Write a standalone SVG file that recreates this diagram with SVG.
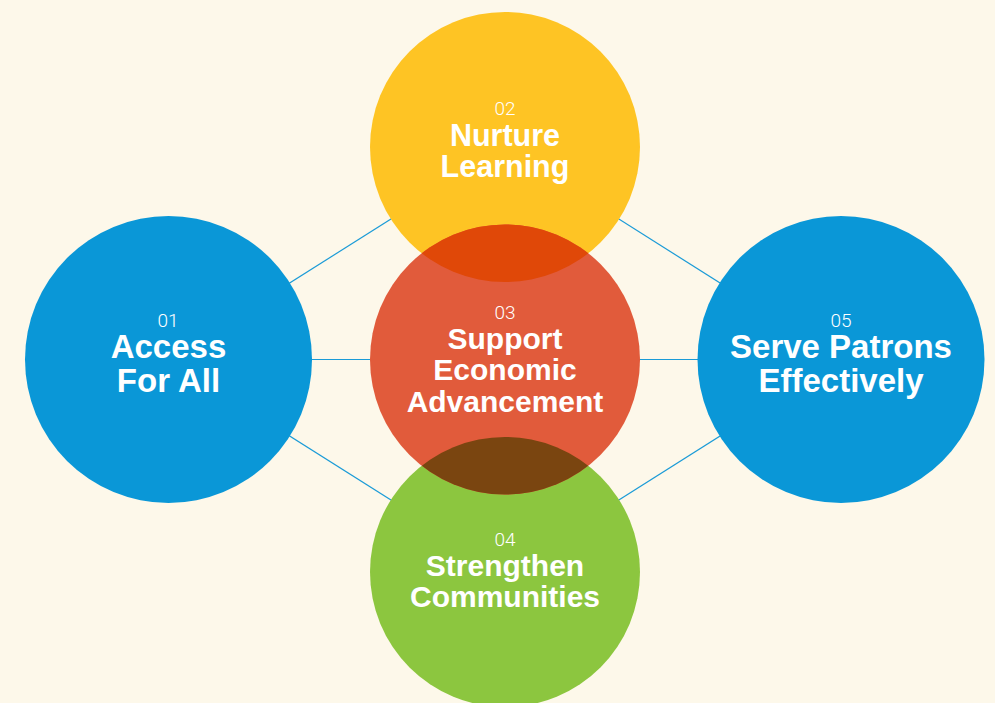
<svg xmlns="http://www.w3.org/2000/svg" width="995" height="703" viewBox="0 0 995 703">
  <style>
    .link { stroke: #1a9bd7; stroke-width: 1.2; fill: none; }
    .num { font-family: Roboto, "Open Sans", "Liberation Sans", sans-serif; font-weight: 300; fill: #ffffff; text-anchor: middle; }
    .title { font-family: "Liberation Sans", Arial, Helvetica, sans-serif; font-weight: bold; fill: #ffffff; text-anchor: middle; }
  </style>
  <defs>
    <clipPath id="clip-red">
      <circle cx="505" cy="359.5" r="135"/>
    </clipPath>
  </defs>

  <rect x="0" y="0" width="995" height="703" fill="#fdf8ea"/>

  <!-- connectors between circle centres, drawn behind the circles -->
  <g id="connectors">
    <line class="link" x1="168.5" y1="359.5" x2="505" y2="147"/>
    <line class="link" x1="168.5" y1="359.5" x2="505" y2="359.5"/>
    <line class="link" x1="168.5" y1="359.5" x2="505" y2="572"/>
    <line class="link" x1="841" y1="359.5" x2="505" y2="147"/>
    <line class="link" x1="841" y1="359.5" x2="505" y2="359.5"/>
    <line class="link" x1="841" y1="359.5" x2="505" y2="572"/>
  </g>

  <g id="node-01">
    <circle cx="168.5" cy="359.5" r="143.5" fill="#0a97d7"/>
    <text class="num" x="168" y="327" font-size="19">01</text>
    <text class="title" x="168.5" y="357.5" font-size="33">Access</text>
    <text class="title" x="168.5" y="392" font-size="33">For All</text>
  </g>

  <g id="node-05">
    <circle cx="841" cy="359.5" r="143.5" fill="#0a97d7"/>
    <text class="num" x="841" y="327" font-size="19">05</text>
    <text class="title" x="841" y="357.5" font-size="33">Serve Patrons</text>
    <text class="title" x="841" y="392" font-size="33">Effectively</text>
  </g>

  <g id="node-02">
    <circle cx="505" cy="147" r="135" fill="#fec424"/>
    <text class="num" x="505" y="115" font-size="19">02</text>
    <text class="title" x="505" y="146" font-size="30.5">Nurture</text>
    <text class="title" x="505" y="176.5" font-size="30.5">Learning</text>
  </g>

  <g id="node-04">
    <circle cx="505" cy="572" r="135" fill="#8cc63f"/>
    <text class="num" x="505" y="546" font-size="19">04</text>
    <text class="title" x="505" y="575.5" font-size="30">Strengthen</text>
    <text class="title" x="505" y="606.5" font-size="30">Communities</text>
  </g>

  <g id="node-03">
    <circle cx="505" cy="359.5" r="135" fill="#e15b3b"/>
    <!-- overlapping lenses where the centre circle meets its neighbours -->
    <g clip-path="url(#clip-red)">
      <circle cx="505" cy="147" r="135" fill="#e04808"/>
      <circle cx="505" cy="572" r="135" fill="#7a4510"/>
    </g>
    <text class="num" x="505" y="318.5" font-size="19">03</text>
    <text class="title" x="505" y="348.5" font-size="30">Support</text>
    <text class="title" x="505" y="380" font-size="30">Economic</text>
    <text class="title" x="505" y="411.5" font-size="30">Advancement</text>
  </g>
</svg>
